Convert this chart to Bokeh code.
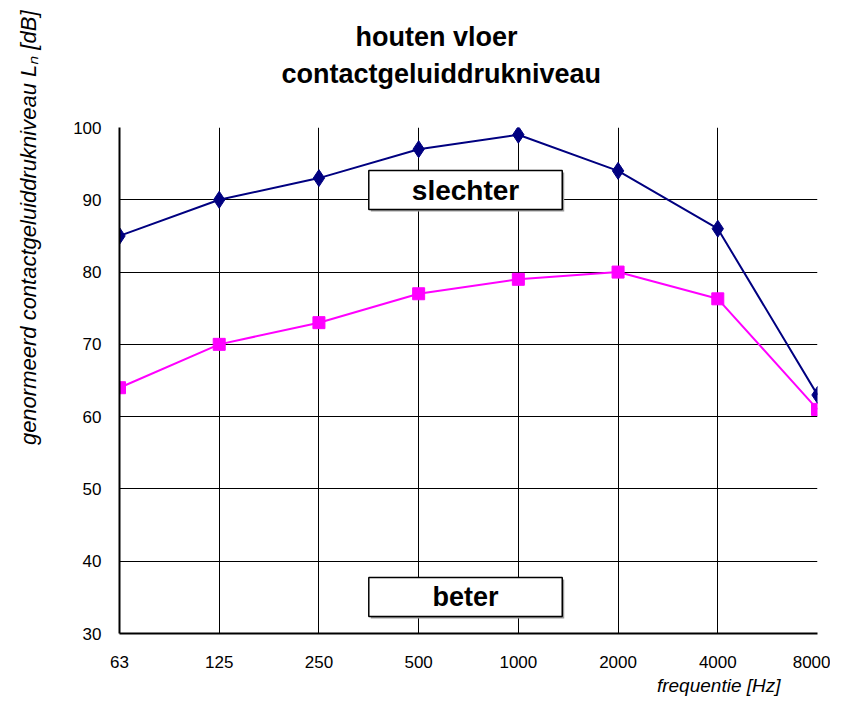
from bokeh.plotting import figure
from bokeh.models import Range1d, FixedTicker, Title, ColumnDataSource
from bokeh.core.properties import value
from bokeh.embed import file_html
from bokeh.resources import INLINE

# ---- data ----
freq_labels = ["63", "125", "250", "500", "1000", "2000", "4000", "8000"]
slechter_vals = [85, 90, 93, 97, 99, 94, 86, 63]
beter_vals = [64, 70, 73, 77, 79, 80, 76.3, 61]
y_ticks = [30, 40, 50, 60, 70, 80, 90, 100]

xs = list(range(len(freq_labels)))
FONT = "Liberation Sans"

p = figure(width=830, height=702, output_backend="svg", toolbar_location=None, title=None,
           x_range=Range1d(0, len(freq_labels) - 1), y_range=Range1d(30, 100),
           min_border_left=119, min_border_right=13, min_border_top=127, min_border_bottom=69)
p.background_fill_color = "white"
p.border_fill_color = "white"
p.outline_line_color = None

# title lines: spacer closest to the frame, then line 2, then line 1
spacer = Title(text=" ", standoff=36, text_font_size="1px")
t2 = Title(text="contactgeluiddrukniveau", align="left", offset=162, standoff=0,
           text_font=FONT, text_font_size="27px", text_font_style="bold", text_color="black")
t1 = Title(text="houten vloer", align="left", offset=236, standoff=9,
           text_font=FONT, text_font_size="27px", text_font_style="bold", text_color="black")
p.add_layout(spacer, "above")
p.add_layout(t2, "above")
p.add_layout(t1, "above")

# axes
p.xaxis.ticker = FixedTicker(ticks=xs)
p.xaxis.major_label_overrides = {i: lab for i, lab in zip(xs, freq_labels)}
p.yaxis.ticker = FixedTicker(ticks=y_ticks)
for ax in (p.xaxis, p.yaxis):
    ax.axis_line_width = 2
    ax.axis_line_color = "black"
    ax.major_tick_line_color = None
    ax.minor_tick_line_color = None
    ax.major_label_text_font = FONT
    ax.major_label_text_font_size = "17px"
    ax.major_label_text_color = "black"
p.xaxis.major_label_standoff = 16
p.yaxis.major_label_standoff = 12

# axis titles
lspacer = Title(text=" ", standoff=27, text_font_size="1px")
p.add_layout(lspacer, "left")
ylab = Title(text="genormeerd contactgeluiddrukniveau Lₙ [dB]", align="right", offset=-117, standoff=0,
             text_font=FONT, text_font_size="22px", text_font_style="italic", text_color="black")
p.add_layout(ylab, "left")
xlab = Title(text="frequentie [Hz]", align="right", offset=37, standoff=5,
             text_font=FONT, text_font_size="19px", text_font_style="italic", text_color="black")
p.add_layout(xlab, "below")

p.xgrid.grid_line_color = "black"
p.ygrid.grid_line_color = "black"
p.xgrid.grid_line_width = 1
p.ygrid.grid_line_width = 1

# series
src = ColumnDataSource(dict(x=xs, s=slechter_vals, b=beter_vals))
p.line("x", "s", source=src, line_color="#000080", line_width=2)
p.scatter("x", "s", source=src, marker="diamond", size=17, fill_color="#000080", line_color="#000080")
p.line("x", "b", source=src, line_color="#FF00FF", line_width=2)
p.scatter("x", "b", source=src, marker="square", size=12, fill_color="#FF00FF", line_color="#FF00FF")

# annotation boxes (layout positions)
boxes = [("slechter", "28px", 2.50, 4.44, 88.65, 94.05), ("beter", "27px", 2.50, 4.44, 32.35, 37.75)]
for txt, fs, l, r, b, t in boxes:
    p.quad(left=l + 0.02, right=r + 0.02, bottom=b - 0.28, top=t - 0.28, fill_color="#999999", line_color=None)
    p.quad(left=l, right=r, bottom=b, top=t, fill_color="white", line_color="black", line_width=1.5)
    p.text(x=[(l + r) / 2], y=[(b + t) / 2], text=[txt], text_align="center", text_baseline="middle",
           text_font=value(FONT), text_font_size=fs, text_font_style="bold", text_color="black")

open("out.html", "w").write(file_html(p, INLINE))
